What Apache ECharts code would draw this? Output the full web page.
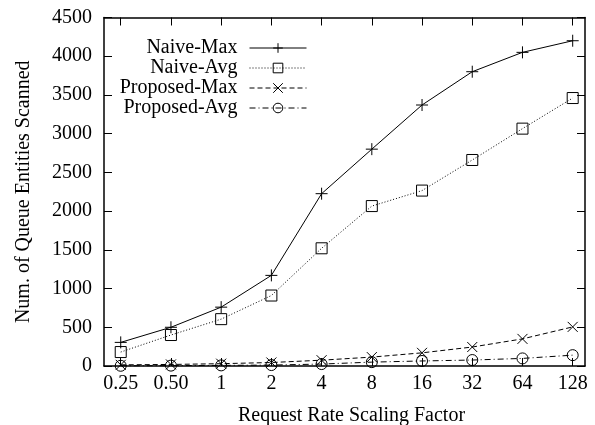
<!DOCTYPE html>
<html>
<head>
<meta charset="utf-8">
<script src="https://cdn.jsdelivr.net/npm/echarts@6/dist/echarts.min.js"></script>
<style>
  html, body { margin: 0; padding: 0; background: #fff; }
  #chart { width: 595px; height: 425px; }
</style>
</head>
<body>
<div id="chart"></div>
<script>
// Scaling factors along the x axis (evenly spaced categories)
const categories = ['0.25', '0.50', '1', '2', '4', '8', '16', '32', '64', '128'];

// Number of queue entities scanned per request-rate scaling factor
const naiveMax    = [305, 500, 760, 1170, 2225, 2800, 3370, 3800, 4050, 4200];
const naiveAvg    = [180, 400, 605, 910, 1520, 2065, 2265, 2660, 3065, 3460];
const proposedMax = [15, 20, 30, 45, 75, 115, 170, 245, 350, 505];
const proposedAvg = [3, 5, 8, 12, 25, 50, 65, 77, 98, 140];

const FONT = 'Liberation Serif';
const FONT_SIZE = 20;
const idx = categories.map((_, i) => i);
const pairs = arr => arr.map((v, i) => [i, v]);

const PLUS = 'path://M0,5L10,5M5,0L5,10';
const CROSS = 'path://M0,0L10,10M0,10L10,0';

function lineSeries(name, data, dash, symbol, size) {
  return {
    name: name,
    type: 'line',
    data: pairs(data),
    symbol: symbol,
    symbolSize: size,
    showAllSymbol: true,
    clip: false,
    lineStyle: { color: '#000', width: 1, type: dash },
    itemStyle: { color: 'none', borderColor: '#000', borderWidth: 1 },
    emphasis: { disabled: true },
    animation: false
  };
}

const series = [
  lineSeries('Naive-Max', naiveMax, 'solid', PLUS, 12),
  lineSeries('Naive-Avg', naiveAvg, [1, 2], 'rect', 11),
  lineSeries('Proposed-Max', proposedMax, [5, 3], CROSS, 10),
  lineSeries('Proposed-Avg', proposedAvg, [6, 3, 1, 3], 'circle', 11)
];

// One legend per entry so each label is right-aligned against its sample line
const legendTops = [38, 58, 78, 98];
const legends = series.map((s, i) => ({
  data: [s.name],
  right: 288,
  top: legendTops[i],
  padding: 0,
  align: 'right',
  itemWidth: 57,
  itemHeight: 12,
  selectedMode: false,
  itemStyle: { borderWidth: 1 },
  lineStyle: { width: 1 },
  textStyle: { fontFamily: FONT, fontSize: FONT_SIZE, color: '#000', padding: [0, 7, 0, 0] }
}));

const axisText = { fontFamily: FONT, fontSize: FONT_SIZE, color: '#000' };
const frameLine = { show: true, onZero: false, lineStyle: { color: '#000', width: 1.5 } };
const tickStyle = { color: '#000', width: 1 };

const option = {
  backgroundColor: '#fff',
  animation: false,
  grid: { left: 104, right: 10, top: 17.5, bottom: 59, outerBoundsMode: 'none', containLabel: false },
  legend: legends,
  xAxis: [
    {
      type: 'value',
      min: -0.333,
      max: 9.245,
      position: 'bottom',
      axisLine: frameLine,
      axisTick: { inside: true, length: 8, customValues: idx, lineStyle: tickStyle },
      axisLabel: {
        customValues: idx,
        formatter: v => categories[Math.round(v)],
        margin: 8,
        ...axisText
      },
      splitLine: { show: false },
      name: 'Request Rate Scaling Factor',
      nameLocation: 'middle',
      nameGap: 40,
      nameTextStyle: { ...axisText, padding: [0, 0, 0, 14] }
    },
    {
      type: 'value',
      min: -0.333,
      max: 9.245,
      position: 'top',
      axisLine: frameLine,
      axisTick: { inside: true, length: 8, customValues: idx, lineStyle: tickStyle },
      axisLabel: { show: false },
      splitLine: { show: false }
    }
  ],
  yAxis: [
    {
      type: 'value',
      min: 0,
      max: 4500,
      interval: 500,
      position: 'left',
      axisLine: frameLine,
      axisTick: { inside: true, length: 8, lineStyle: tickStyle },
      axisLabel: { margin: 12, formatter: v => String(v), ...axisText },
      splitLine: { show: false },
      name: 'Num. of Queue Entities Scanned',
      nameLocation: 'middle',
      nameGap: 70,
      nameTextStyle: axisText
    },
    {
      type: 'value',
      min: 0,
      max: 4500,
      interval: 500,
      position: 'right',
      axisLine: frameLine,
      axisTick: { inside: true, length: 8, lineStyle: tickStyle },
      axisLabel: { show: false },
      splitLine: { show: false }
    }
  ],
  series: series
};

const chart = echarts.init(document.getElementById('chart'), null, { renderer: 'canvas' });
chart.setOption(option);
</script>
</body>
</html>
